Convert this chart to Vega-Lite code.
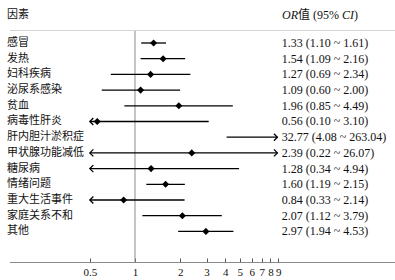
{
  "$schema": "https://vega.github.io/schema/vega-lite/v6.json",
  "width": 385,
  "height": 262,
  "autosize": {"type": "none"},
  "padding": {"left": 10, "top": 0, "right": 0, "bottom": 18},
  "background": "white",
  "config": {"view": {"stroke": null}},
  "data": {
    "values": [
      {"row": 0, "factor": "感冒", "or": 1.33, "lo": 1.10, "hi": 1.61, "from": 1.10, "to": 1.61, "label": "1.33 (1.10 ~ 1.61)"},
      {"row": 1, "factor": "发热", "or": 1.54, "lo": 1.09, "hi": 2.16, "from": 1.09, "to": 2.16, "label": "1.54 (1.09 ~ 2.16)"},
      {"row": 2, "factor": "妇科疾病", "or": 1.27, "lo": 0.69, "hi": 2.34, "from": 0.69, "to": 2.34, "label": "1.27 (0.69 ~ 2.34)"},
      {"row": 3, "factor": "泌尿系感染", "or": 1.09, "lo": 0.60, "hi": 2.00, "from": 0.60, "to": 2.00, "label": "1.09 (0.60 ~ 2.00)"},
      {"row": 4, "factor": "贫血", "or": 1.96, "lo": 0.85, "hi": 4.49, "from": 0.85, "to": 4.49, "label": "1.96 (0.85 ~ 4.49)"},
      {"row": 5, "factor": "病毒性肝炎", "or": 0.56, "lo": 0.10, "hi": 3.10, "from": 0.5, "to": 3.10, "label": "0.56 (0.10 ~ 3.10)"},
      {"row": 6, "factor": "肝内胆汁淤积症", "or": 32.77, "lo": 4.08, "hi": 263.04, "from": 4.08, "to": 8.9, "label": "32.77 (4.08 ~ 263.04)"},
      {"row": 7, "factor": "甲状腺功能减低", "or": 2.39, "lo": 0.22, "hi": 26.07, "from": 0.5, "to": 8.9, "label": "2.39 (0.22 ~ 26.07)"},
      {"row": 8, "factor": "糖尿病", "or": 1.28, "lo": 0.34, "hi": 4.94, "from": 0.5, "to": 4.94, "label": "1.28 (0.34 ~ 4.94)"},
      {"row": 9, "factor": "情绪问题", "or": 1.60, "lo": 1.19, "hi": 2.15, "from": 1.19, "to": 2.15, "label": "1.60 (1.19 ~ 2.15)"},
      {"row": 10, "factor": "重大生活事件", "or": 0.84, "lo": 0.33, "hi": 2.14, "from": 0.5, "to": 2.14, "label": "0.84 (0.33 ~ 2.14)"},
      {"row": 11, "factor": "家庭关系不和", "or": 2.07, "lo": 1.12, "hi": 3.79, "from": 1.12, "to": 3.79, "label": "2.07 (1.12 ~ 3.79)"},
      {"row": 12, "factor": "其他", "or": 2.97, "lo": 1.94, "hi": 4.53, "from": 1.94, "to": 4.53, "label": "2.97 (1.94 ~ 4.53)"}
    ]
  },
  "layer": [
    {
      "transform": [{"filter": "datum.row == 0"}],
      "mark": {"type": "rect", "color": "#d4d4d4", "opacity": 1},
      "encoding": {
        "y": {"datum": -0.828, "type": "quantitative", "scale": {"domain": [-2.739, 13.95], "reverse": true, "nice": false, "zero": false}, "axis": null},
        "y2": {"datum": -0.7643},
        "x": {"datum": 0.1468, "type": "quantitative", "scale": {"type": "log", "domain": [0.1468, 54.12], "nice": false, "zero": false}, "axis": {"values": [0.5, 1, 2, 3, 4, 5, 6, 7, 8, 9], "labelExpr": "datum.value + ''", "title": null, "grid": false, "domain": false, "ticks": true, "tickColor": "#555555", "tickWidth": 1, "tickSize": -4, "labelPadding": 8, "labelFont": "Liberation Serif", "labelFontSize": 11, "labelColor": "#111111"}},
        "x2": {"datum": 54.12}
      }
    },
    {
      "transform": [{"filter": "datum.row == 0"}],
      "mark": {"type": "rect", "color": "#8a8a8a", "opacity": 1},
      "encoding": {"y": {"datum": 13.95, "type": "quantitative"}, "y2": {"datum": 14.0133}, "x": {"datum": 0.1468, "type": "quantitative"}, "x2": {"datum": 54.12}}
    },
    {
      "transform": [{"filter": "datum.row == 0"}],
      "mark": {"type": "rule", "color": "#8a8a8a", "strokeWidth": 1},
      "encoding": {"x": {"datum": 1, "type": "quantitative"}, "y": {"datum": -0.7643, "type": "quantitative"}, "y2": {"datum": 13.95}}
    },
    {
      "mark": {"type": "rule", "color": "#000000", "strokeWidth": 1.3},
      "encoding": {
        "y": {"field": "row", "type": "quantitative"},
        "x": {"field": "from", "type": "quantitative"},
        "x2": {"field": "to"}
      }
    },
    {
      "transform": [{"filter": "datum.or <= 9"}],
      "mark": {"type": "point", "shape": "diamond", "filled": true, "color": "#000000", "size": 50, "opacity": 1},
      "encoding": {"x": {"field": "or", "type": "quantitative"}, "y": {"field": "row", "type": "quantitative"}}
    },
    {
      "transform": [{"filter": "datum.lo < datum.from"}],
      "mark": {"type": "point", "shape": "M1,-1L0,0L1,1", "filled": false, "color": "#000000", "strokeWidth": 1.3, "size": 49, "opacity": 1},
      "encoding": {"x": {"field": "from", "type": "quantitative"}, "y": {"field": "row", "type": "quantitative"}}
    },
    {
      "transform": [{"filter": "datum.hi > datum.to"}],
      "mark": {"type": "point", "shape": "M-1,-1L0,0L-1,1", "filled": false, "color": "#000000", "strokeWidth": 1.3, "size": 49, "opacity": 1},
      "encoding": {"x": {"field": "to", "type": "quantitative"}, "y": {"field": "row", "type": "quantitative"}}
    },
    {
      "mark": {"type": "text", "align": "left", "baseline": "middle", "dx": -3, "font": "Noto Sans CJK SC", "fontSize": 11, "color": "#111111"},
      "encoding": {"x": {"datum": 0.1468, "type": "quantitative"}, "y": {"field": "row", "type": "quantitative"}, "text": {"field": "factor", "type": "nominal"}}
    },
    {
      "mark": {"type": "text", "align": "left", "baseline": "middle", "font": "Liberation Serif", "fontSize": 12, "color": "#111111"},
      "encoding": {"x": {"datum": 9.5, "type": "quantitative"}, "y": {"field": "row", "type": "quantitative"}, "text": {"field": "label", "type": "nominal"}}
    },
    {
      "transform": [{"filter": "datum.row == 0"}],
      "mark": {"type": "text", "align": "left", "baseline": "middle", "dx": -3, "font": "Noto Sans CJK SC", "fontSize": 11, "color": "#111111"},
      "encoding": {"x": {"datum": 0.1468, "type": "quantitative"}, "y": {"datum": -1.78, "type": "quantitative"}, "text": {"value": "因素"}}
    },
    {
      "transform": [{"filter": "datum.row == 0"}],
      "mark": {"type": "text", "align": "left", "baseline": "middle", "font": "Liberation Serif", "fontStyle": "italic", "fontSize": 12, "color": "#111111"},
      "encoding": {"x": {"datum": 9.55, "type": "quantitative"}, "y": {"datum": -1.78, "type": "quantitative"}, "text": {"value": "OR"}}
    },
    {
      "transform": [{"filter": "datum.row == 0"}],
      "mark": {"type": "text", "align": "left", "baseline": "middle", "dx": 16, "font": "Liberation Serif, Noto Sans CJK SC", "fontSize": 12, "color": "#111111"},
      "encoding": {"x": {"datum": 9.55, "type": "quantitative"}, "y": {"datum": -1.78, "type": "quantitative"}, "text": {"value": "值 (95% "}}
    },
    {
      "transform": [{"filter": "datum.row == 0"}],
      "mark": {"type": "text", "align": "left", "baseline": "middle", "dx": 60, "font": "Liberation Serif", "fontStyle": "italic", "fontSize": 12, "color": "#111111"},
      "encoding": {"x": {"datum": 9.55, "type": "quantitative"}, "y": {"datum": -1.78, "type": "quantitative"}, "text": {"value": "CI"}}
    },
    {
      "transform": [{"filter": "datum.row == 0"}],
      "mark": {"type": "text", "align": "left", "baseline": "middle", "dx": 72, "font": "Liberation Serif", "fontSize": 12, "color": "#111111"},
      "encoding": {"x": {"datum": 9.55, "type": "quantitative"}, "y": {"datum": -1.78, "type": "quantitative"}, "text": {"value": ")"}}
    }
  ]
}
